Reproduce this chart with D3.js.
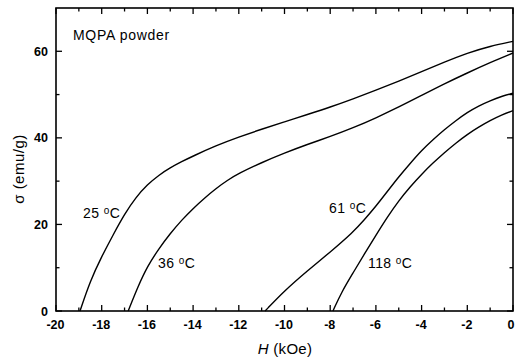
<!DOCTYPE html>
<html><head><meta charset="utf-8">
<script src="https://cdn.jsdelivr.net/npm/d3@7"></script>
<style>body{margin:0;background:#fff}svg{display:block}</style>
</head><body>
<script>
const xTicks = [-20,-18,-16,-14,-12,-10,-8,-6,-4,-2,0];
const yTicks = [0,20,40,60];
const H25 = [-18.95,-18.5,-18,-17.5,-17,-16.5,-16,-15.5,-15,-14.5,-14,-13,-12,-11,-10,-9,-8,-7,-6,-5,-4,-3,-2,-1,0];
const S25 = [0,7.0,12.6,17.6,22.4,26.3,29.2,31.4,33.1,34.5,35.8,38.2,40.2,42.0,43.7,45.4,47.1,49.0,51.0,53.1,55.3,57.5,59.6,61.2,62.3];
const H36 = [-16.84,-16.4,-16,-15.5,-15,-14.5,-14,-13.5,-13,-12.5,-12,-11,-10,-9,-8,-7,-6,-5,-4,-3,-2,-1,0];
const S36 = [0,5.8,10.3,14.4,17.9,21.0,23.7,26.1,28.3,30.2,31.8,34.3,36.5,38.5,40.3,42.3,44.6,47.1,49.8,52.5,55.0,57.4,59.6];
const H61 = [-10.85,-10,-9,-8,-7,-6.5,-6,-5.5,-5,-4.5,-4,-3.5,-3,-2.5,-2,-1.5,-1,-0.5,0];
const S61 = [0,4.7,9.3,13.6,18.2,21.1,24.2,27.6,31.0,34.1,37.1,39.6,41.9,44.0,45.9,47.4,48.6,49.6,50.3];
const H118 = [-7.88,-7.5,-7,-6.5,-6,-5.5,-5,-4.5,-4,-3.5,-3,-2.5,-2,-1.5,-1,-0.5,0];
const S118 = [0,4.4,8.8,13.2,17.5,21.7,25.5,28.7,31.6,34.2,36.6,38.8,40.8,42.5,44.0,45.3,46.3];
const seriesNames = ["25", "36", "61", "118"];

const W = 515, Hgt = 361;
const m = {l:56, r:2, t:8, b:50};
const svg = d3.select("body").append("svg").attr("width", W).attr("height", Hgt);
const x = d3.scaleLinear().domain([-20,0]).range([m.l, W-m.r]);
const y = d3.scaleLinear().domain([0,70]).range([Hgt-m.b, m.t]);
const font = "Liberation Sans, Arial, sans-serif";

// frame
svg.append("rect").attr("x", x(-20)).attr("y", y(70)).attr("width", x(0)-x(-20)).attr("height", y(0)-y(70))
  .attr("fill","none").attr("stroke","#000").attr("stroke-width",1.6);

const minorX = d3.range(-19, 0, 2);
const minorY = [10,30,50];
const g = svg.append("g").attr("stroke","#000").attr("stroke-width",1.3);
const MJ = 6, MN = 3.5;
xTicks.forEach(v => {
  g.append("line").attr("x1",x(v)).attr("x2",x(v)).attr("y1",y(0)).attr("y2",y(0)-MJ);
  g.append("line").attr("x1",x(v)).attr("x2",x(v)).attr("y1",y(70)).attr("y2",y(70)+MJ);
});
minorX.forEach(v => {
  g.append("line").attr("x1",x(v)).attr("x2",x(v)).attr("y1",y(0)).attr("y2",y(0)-MN);
  g.append("line").attr("x1",x(v)).attr("x2",x(v)).attr("y1",y(70)).attr("y2",y(70)+MN);
});
yTicks.forEach(v => {
  g.append("line").attr("y1",y(v)).attr("y2",y(v)).attr("x1",x(-20)).attr("x2",x(-20)+MJ);
  g.append("line").attr("y1",y(v)).attr("y2",y(v)).attr("x1",x(0)).attr("x2",x(0)-MJ);
});
minorY.forEach(v => {
  g.append("line").attr("y1",y(v)).attr("y2",y(v)).attr("x1",x(-20)).attr("x2",x(-20)+MN);
  g.append("line").attr("y1",y(v)).attr("y2",y(v)).attr("x1",x(0)).attr("x2",x(0)-MN);
});

// tick labels
svg.selectAll(".xl").data(xTicks).enter().append("text")
  .attr("x", d => d === 0 ? W - 0.5 : x(d) - 0.5).attr("y", y(0)+18)
  .attr("text-anchor", d => d === 0 ? "end" : "middle")
  .attr("font-family",font).attr("font-size",12.5).attr("font-weight","bold").text(d => d);
svg.selectAll(".yl").data(yTicks).enter().append("text")
  .attr("x", x(-20)-8).attr("y", d => y(d)+4.5).attr("text-anchor","end")
  .attr("font-family",font).attr("font-size",12.5).attr("font-weight","bold").text(d => d);

// axis titles
const xt = svg.append("text").attr("x", 285).attr("y", 354).attr("text-anchor","middle")
  .attr("font-family",font).attr("font-size",15).attr("letter-spacing",0.3);
xt.append("tspan").attr("font-style","italic").text("H");
xt.append("tspan").text(" (kOe)");
svg.append("text").attr("transform","translate(24,169) rotate(-90)").attr("text-anchor","middle")
  .attr("font-family",font).attr("font-size",15).attr("letter-spacing",0.5).text("σ (emu/g)");

// curves
const line = d3.line().x(d => x(d[0])).y(d => y(d[1])).curve(d3.curveBasis);
const data = [[H25,S25],[H36,S36],[H61,S61],[H118,S118]].map(([h,s]) => h.map((v,i) => [v, s[i]]));
svg.selectAll(".c").data(data).enter().append("path")
  .attr("d", line).attr("fill","none").attr("stroke","#000").attr("stroke-width",1.4);

// labels
svg.append("text").attr("x",73).attr("y",40).attr("font-family",font).attr("font-size",14)
  .attr("letter-spacing",0.7).text("MQPA powder");
const labPos = [[83,218],[158,268],[329,213],[368,268]];
seriesNames.forEach((n,i) => {
  const t = svg.append("text").attr("x",labPos[i][0]).attr("y",labPos[i][1])
    .attr("font-family",font).attr("font-size",14).attr("letter-spacing",0.4);
  t.append("tspan").text(n + " ");
  t.append("tspan").attr("font-size",10).attr("dy",-4).text("o");
  t.append("tspan").attr("dy",4).text("C");
});
</script>
</body></html>
